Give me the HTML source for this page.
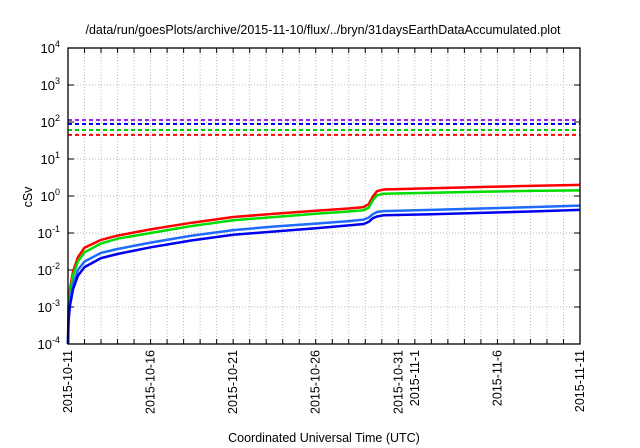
<!DOCTYPE html>
<html><head><meta charset="utf-8"><style>
body{margin:0;background:#fff;}
svg{font-family:"Liberation Sans",sans-serif;display:block}
</style></head><body>
<svg id="c" width="640" height="448" viewBox="0 0 640 448">
<text x="323" y="34" font-size="12.5" text-anchor="middle">/data/run/goesPlots/archive/2015-11-10/flux/../bryn/31daysEarthDataAccumulated.plot</text>
<text transform="translate(32,197) rotate(-90)" font-size="12.5" text-anchor="middle">cSv</text>
<text x="324" y="442" font-size="12.5" text-anchor="middle">Coordinated Universal Time (UTC)</text>
<g id="grid"></g><g id="ticks"></g><g id="series"></g>
<rect x="68" y="48" width="512" height="296" fill="none" stroke="#000" stroke-width="1.3"/>
</svg>
<script>
const tickDays=[0,5,10,15,20,21,26,31];
const tickLabels=["2015-10-11","2015-10-16","2015-10-21","2015-10-26","2015-10-31","2015-11-1","2015-11-6","2015-11-11"];
const yExps=[-4,-3,-2,-1,0,1,2,3,4];
const thresholds=[113,88,61,45];
const thresholdColors=["#a020f0","#0000ff","#00cc00","#ff0000"];
const days=[0,0.03,0.12,0.3,0.6,1,2,3,5,7.5,10,12.5,15,17,17.9,18.2,18.45,18.7,19.1,22,25,28,31];
const red=[1e-4,1e-3,3e-3,0.009,0.022,0.04,0.065,0.085,0.125,0.19,0.27,0.33,0.4,0.46,0.5,0.6,0.95,1.35,1.5,1.62,1.75,1.87,2.0];
const green=[1e-4,8e-4,2.4e-3,0.007,0.017,0.03,0.052,0.07,0.1,0.155,0.22,0.27,0.33,0.38,0.41,0.48,0.75,1.05,1.15,1.22,1.3,1.37,1.42];
const lightBlue=[1e-4,5e-4,1.5e-3,0.004,0.01,0.017,0.029,0.037,0.055,0.085,0.12,0.15,0.18,0.21,0.23,0.26,0.32,0.37,0.39,0.42,0.46,0.5,0.55];
const darkBlue=[1e-4,4e-4,1.1e-3,0.003,0.007,0.012,0.021,0.027,0.041,0.063,0.09,0.11,0.135,0.16,0.175,0.2,0.25,0.28,0.3,0.32,0.35,0.38,0.42];
const L=68,R=580,T=48,B=344,NS="http://www.w3.org/2000/svg";
const xs=d=>L+(R-L)*d/31;
const ys=v=>B-(B-T)*(Math.log10(v)+4)/8;
function mk(t,a,p){const e=document.createElementNS(NS,t);for(const k in a)e.setAttribute(k,a[k]);p.appendChild(e);return e;}
const g=document.getElementById('grid'),tk=document.getElementById('ticks'),s=document.getElementById('series');
for(let d=1;d<31;d++){const l=mk('line',{x1:xs(d),x2:xs(d),y1:T,y2:B,stroke:'#bbb','stroke-dasharray':'1,2','stroke-width':1},g);


const a=mk('line',{x1:xs(d),x2:xs(d),y1:B,y2:B-5,stroke:'#000'},tk);


const b=mk('line',{x1:xs(d),x2:xs(d),y1:T,y2:T+5,stroke:'#000'},tk);

}
yExps.forEach(e=>{const y=ys(Math.pow(10,e));
if(e>-4&&e<4){const l=mk('line',{x1:L,x2:R,y1:y,y2:y,stroke:'#bbb','stroke-dasharray':'1,2'},g);


mk('line',{x1:L,x2:L+6,y1:y,y2:y,stroke:'#000'},tk);mk('line',{x1:R,x2:R-6,y1:y,y2:y,stroke:'#000'},tk);}
const t=mk('text',{x:60,y:y+5,'font-size':13,'text-anchor':'end'},tk);


t.innerHTML='10<tspan dy="-6" font-size="9">'+e+'</tspan>';});
tickDays.forEach((d,i)=>{const t=mk('text',{transform:`translate(${xs(d)+4},350) rotate(-90)`,'font-size':12.5,'text-anchor':'end'},tk);


t.textContent=tickLabels[i];});
thresholds.forEach((v,i)=>{const l=mk('line',{x1:L,x2:R,y1:ys(v),y2:ys(v),stroke:thresholdColors[i],'stroke-width':2,'stroke-dasharray':'4,3'},s);

});
[[red,'#ff0000'],[green,'#00dd00'],[lightBlue,'#1e6bff'],[darkBlue,'#0000ee']].forEach(([arr,c])=>{
const p=mk('path',{d:arr.map((v,i)=>(i?'L':'M')+xs(days[i]).toFixed(1)+','+ys(v).toFixed(1)).join(''),fill:'none',stroke:c,'stroke-width':2.5,'stroke-linejoin':'round'},s);

});
</script>
</body></html>
